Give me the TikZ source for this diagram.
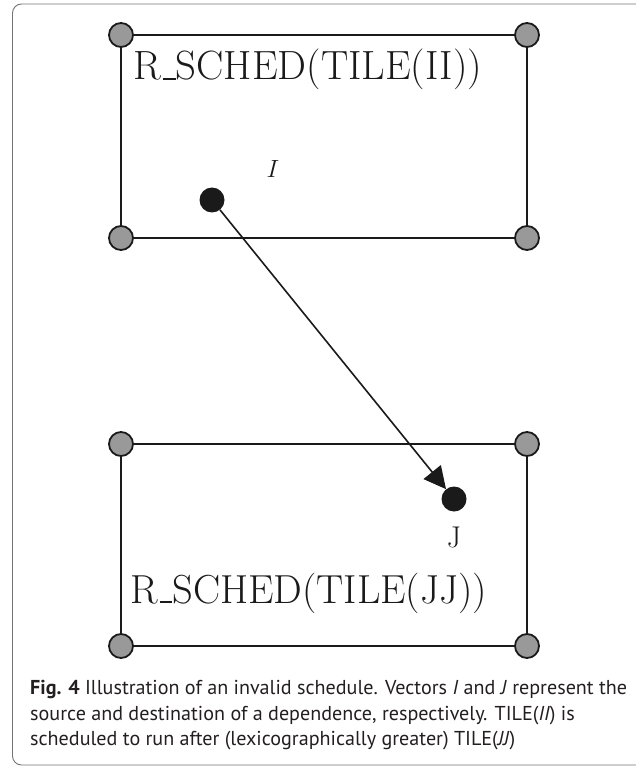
\documentclass[tikz,border=0pt]{standalone}
\usepackage{fontspec}
\newfontfamily\capfont{PT Sans}
\usetikzlibrary{arrows.meta}
\definecolor{ink}{HTML}{1A1A1A}
\definecolor{cornerfill}{HTML}{999999}
\definecolor{captext}{HTML}{231F20}
\newcommand{\usc}{\kern.06em\rule[-0.1pt]{0.3em}{0.06em}}
% fit helpers
\newlength{\fitw}
\newcommand{\captionone}{\textbf{Fig. 4} Illustration of an invalid schedule. Vectors \textit{I} and \textit{J} represent the}
\settowidth{\fitw}{\capfont\fontsize{10}{12}\selectfont\captionone}
\pgfmathsetmacro{\capsize}{10*597/\fitw}
\settowidth{\fitw}{\fontsize{41}{48}\selectfont R\usc SCHED(TILE(II))}
\pgfmathsetmacro{\topsize}{41*349/\fitw}
\settowidth{\fitw}{\fontsize{41}{48}\selectfont R\usc SCHED(TILE(JJ))}
\pgfmathsetmacro{\botsize}{41*357/\fitw}
\tikzset{
  boxline/.style={draw=ink, line width=2pt},
  corner/.style={circle, draw=ink, fill=cornerfill, line width=1.8pt, minimum size=24pt, inner sep=0pt},
  vec/.style={circle, fill=ink, minimum size=25pt, inner sep=0pt},
  lbl/.style={inner sep=0pt, text=ink},
  capline/.style={anchor=base west, inner sep=0pt, text=captext, font=\capfont\fontsize{\capsize}{24}\selectfont},
  frame/.style={draw=black!55, line width=0.9pt, rounded corners=9pt}
}
\begin{document}
\begin{tikzpicture}[x=1pt,y=-1pt]
\useasboundingbox (0,0) rectangle (635,767);
\draw[frame] (12.5,4) rectangle (645,765);
% top box
\coordinate (a1) at (121,35);
\coordinate (a2) at (527,35);
\coordinate (a3) at (527,238);
\coordinate (a4) at (121,238);
\draw[boxline] (a1) -- (a2) -- (a3) -- (a4) -- cycle;
\foreach \c in {a1,a2,a3,a4} \node[corner] (n\c) at (\c) {};
% bottom box
\coordinate (b1) at (121,444);
\coordinate (b2) at (527,444);
\coordinate (b3) at (527,646);
\coordinate (b4) at (121,646);
\draw[boxline] (b1) -- (b2) -- (b3) -- (b4) -- cycle;
\foreach \c in {b1,b2,b3,b4} \node[corner] (n\c) at (\c) {};
% texts
\node[lbl, anchor=base west, font=\fontsize{\topsize}{48}\selectfont] (t1) at (133,80) {R\usc SCHED(TILE(II))};
\node[lbl, anchor=base west, font=\fontsize{\botsize}{48}\selectfont] (t2) at (130,603) {R\usc SCHED(TILE(JJ))};
\node[lbl, font=\fontsize{31}{36}\selectfont] (li) at (273,168.5) {$I$};
\node[lbl, font=\fontsize{30}{36}\selectfont] (lj) at (454,537) {J};
% vectors
\node[vec] (vi) at (212,200) {};
\node[vec] (vj) at (454,499) {};
\draw[line width=1.6pt, draw=ink, -{Triangle[length=22pt,width=22pt]}] (vi) -- (vj);
% caption
\node[capline] (c1) at (30,694) {\captionone};
\node[capline] (c2) at (30,720) {source and destination of a dependence, respectively. TILE(\textit{II}) is};
\node[capline] (c3) at (30,745) {scheduled to run after (lexicographically greater) TILE(\textit{JJ})};
\end{tikzpicture}
\end{document}
